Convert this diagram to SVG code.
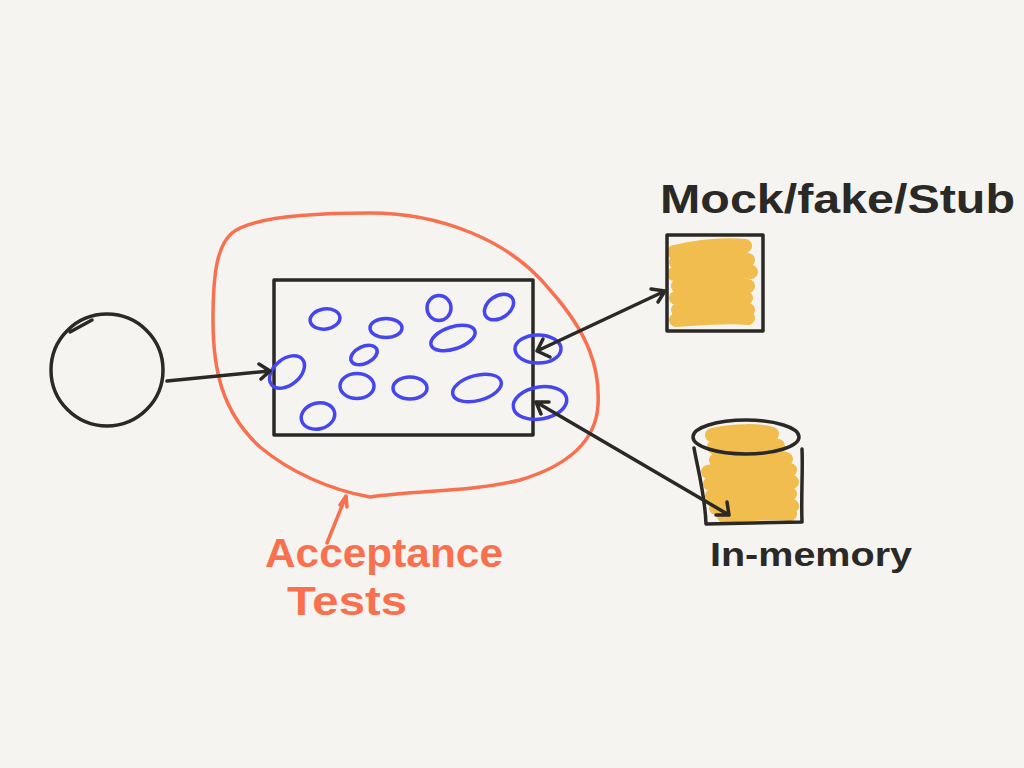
<svg xmlns="http://www.w3.org/2000/svg" width="1024" height="768" viewBox="0 0 1024 768">
<defs>
<style>
.ink{fill:none;stroke:#2a2926;stroke-width:3.5;stroke-linecap:round;stroke-linejoin:round}
.blue{fill:none;stroke:#4646ee;stroke-width:3.5}
.red{fill:none;stroke:#f9704f;stroke-width:3.5;stroke-linecap:round;stroke-linejoin:round}
.scrib{fill:none;stroke:#f2bd4f;stroke-width:14;stroke-linecap:round;stroke-linejoin:round}
.lbl{font-family:"Liberation Sans","DejaVu Sans",sans-serif;font-weight:bold}
</style>
</defs>
<rect width="1024" height="768" fill="#f5f4f1"/>

<g id="user">
<circle class="ink" cx="107" cy="370" r="56"/>
<path class="ink" d="M70,332 L92,320" stroke-width="2.5"/>
</g>

<g id="acceptance-boundary">
<path class="red" d="M232,233 C250,218 300,213 370,213 C440,213 510,240 550,290 C590,335 600,370 598,405 C596,440 570,465 520,480 C470,492 420,490 370,497 C330,490 290,472 260,447 C222,412 213,370 213,320 C213,270 218,245 232,233 Z"/>
</g>

<g id="system">
<rect class="ink" x="274" y="280" width="259" height="155" stroke-width="4"/>
<ellipse class="blue" cx="325" cy="319" rx="15" ry="10" transform="rotate(-8 325 319)"/>
<ellipse class="blue" cx="386" cy="328" rx="16" ry="9.5"/>
<ellipse class="blue" cx="439" cy="308" rx="12" ry="12.5"/>
<ellipse class="blue" cx="499" cy="307" rx="16" ry="11" transform="rotate(-35 499 307)"/>
<ellipse class="blue" cx="453" cy="338" rx="23" ry="11" transform="rotate(-18 453 338)"/>
<ellipse class="blue" cx="364" cy="355" rx="14" ry="8.5" transform="rotate(-25 364 355)"/>
<ellipse class="blue" cx="287" cy="372" rx="20" ry="13" transform="rotate(-40 287 372)"/>
<ellipse class="blue" cx="357" cy="386" rx="17" ry="12.5"/>
<ellipse class="blue" cx="410" cy="388" rx="17" ry="11"/>
<ellipse class="blue" cx="477" cy="388" rx="25" ry="12.5" transform="rotate(-15 477 388)"/>
<ellipse class="blue" cx="318" cy="416" rx="17" ry="13" transform="rotate(-15 318 416)"/>
<ellipse class="blue" cx="538" cy="349" rx="23" ry="14"/>
<ellipse class="blue" cx="540" cy="403" rx="27" ry="16" transform="rotate(-10 540 403)"/>
</g>

<g id="mock">
<text class="lbl" x="660" y="213" font-size="40" fill="#2a2926" textLength="355" lengthAdjust="spacingAndGlyphs">Mock/fake/Stub</text>
<path class="scrib" d="M674,252 C700,246 725,244 745,246 M676,262 C700,258 730,256 748,260 M674,274 C700,270 730,268 751,272 M678,286 C705,282 730,282 748,286 M676,298 C705,294 730,294 746,298 M678,310 C705,306 730,306 748,310 M676,320 C705,318 730,316 748,318"/>
<rect class="ink" x="667" y="235" width="96" height="96"/>
</g>

<g id="inmemory">
<path class="scrib" d="M712,435 C735,430 760,430 772,434 M714,447 C740,442 765,442 778,446 M716,460 C745,455 770,455 786,459 M708,472 C740,466 770,466 790,470 M710,484 C740,480 770,478 792,482 M712,496 C740,492 770,490 790,494 M716,508 C745,504 770,502 792,506 M724,516 C750,514 770,512 790,514"/>
<ellipse class="ink" cx="746" cy="437" rx="53" ry="17"/>
<path class="ink" d="M694,448 C698,470 705,495 706,524 L802,522 C801,495 803,470 802,449"/>
<text class="lbl" x="710" y="566" font-size="34" fill="#2a2926" textLength="202" lengthAdjust="spacingAndGlyphs">In-memory</text>
</g>

<g id="acceptance-label">
<text class="lbl" x="265" y="567" font-size="40" fill="#f9704f" textLength="238" lengthAdjust="spacingAndGlyphs">Acceptance</text>
<text class="lbl" x="287" y="615" font-size="40" fill="#f9704f" textLength="120" lengthAdjust="spacingAndGlyphs">Tests</text>
</g>

<g id="connectors">
<path class="ink" d="M167,381 L270,371 M259,364 L270,371 L261,379"/>
<path class="ink" d="M537,351 L665,291 M550,357 L537,351 L543,339 M651,289 L665,291 L658,302"/>
<path class="ink" d="M536,402 L729,515 M549,402 L536,402 L541,414 M727,502 L729,515 L716,515"/>
<path class="red" d="M327,543 L346,496 M340,505 L346,496 L347,507" stroke-width="2"/>
</g>
</svg>
